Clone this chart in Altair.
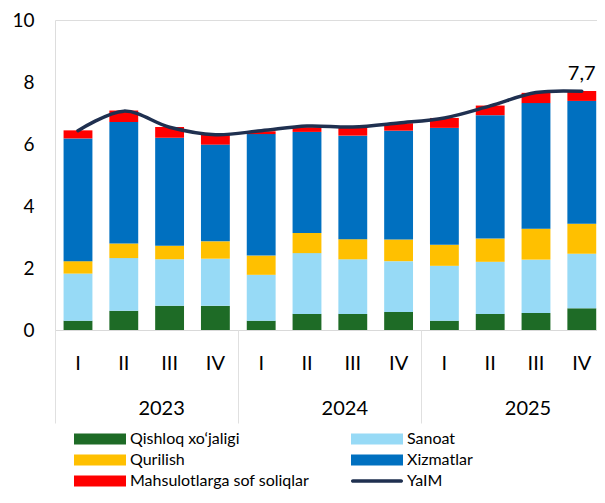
import altair as alt
import pandas as pd

# ---- data ----
quarters = ["I", "II", "III", "IV"] * 3
years = ["2023"] * 4 + ["2024"] * 4 + ["2025"] * 4

series_names = ["Qishloq xo‘jaligi", "Sanoat", "Qurilish", "Xizmatlar",
                "Mahsulotlarga sof soliqlar"]
line_name = "YaIM"

qishloq = [0.30, 0.62, 0.78, 0.78, 0.30, 0.52, 0.52, 0.58, 0.30, 0.52, 0.55, 0.70]
sanoat = [1.52, 1.70, 1.50, 1.52, 1.48, 1.96, 1.76, 1.64, 1.77, 1.68, 1.72, 1.76]
qurilish = [0.40, 0.47, 0.44, 0.56, 0.62, 0.65, 0.65, 0.70, 0.68, 0.75, 1.00, 0.97]
xizmatlar = [3.96, 3.92, 3.48, 3.12, 3.92, 3.26, 3.34, 3.51, 3.77, 3.98, 4.05, 3.96]
soliqlar = [0.26, 0.37, 0.35, 0.32, 0.09, 0.15, 0.25, 0.24, 0.32, 0.31, 0.33, 0.32]
yaim = [6.43, 7.06, 6.54, 6.30, 6.43, 6.58, 6.55, 6.68, 6.84, 7.23, 7.66, 7.70]

colors = ["#1E6B26", "#97DAF6", "#FFC000", "#0070C0", "#FF0000", "#1F3050"]

# ---- tables ----
keys = [f"{y}-{q}" for y, q in zip(years, quarters)]
series_vals = [qishloq, sanoat, qurilish, xizmatlar, soliqlar]
rows = []
for i, k in enumerate(keys):
    for j, (name, vals) in enumerate(zip(series_names, series_vals)):
        rows.append({"key": k, "series": name, "value": vals[i], "ord": j})
bars_df = pd.DataFrame(rows)
line_df = pd.DataFrame({"key": keys, "series": line_name, "gdp": yaim})
label_df = line_df.tail(1).copy()
label_df["label"] = label_df["gdp"].map(lambda v: f"{v:.1f}".replace(".", ","))

FONT = "Lato"

xscale = alt.Scale(domain=keys, paddingInner=0.37, paddingOuter=0.102, align=0.917)
yscale = alt.Scale(domain=[0, 10], nice=False)
cscale = alt.Scale(domain=series_names + [line_name], range=colors)

RECT = "M-1,-0.21H1V0.21H-1Z"
LINE = "M-0.93,-0.07H0.93A0.07,0.07 0 0 1 0.93,0.07H-0.93A0.07,0.07 0 0 1 -0.93,-0.07Z"

legend = alt.Legend(
    title=None, orient="none", legendX=19, legendY=409, columns=2,
    direction="horizontal",
    symbolType=alt.ExprRef(expr=f"datum.value == 'YaIM' ? '{LINE}' : '{RECT}'"),
    symbolSize=2704, symbolStrokeWidth=0, clipHeight=20,
    labelFont=FONT, labelFontSize=16, labelColor="black", labelOffset=4,
    columnPadding=41, rowPadding=1, padding=0, labelLimit=0,
)

quarter_axis = alt.Axis(
    orient="bottom", title=None, labelExpr="split(datum.value, '-')[1]", labelAngle=0,
    labelFont=FONT, labelFontSize=20, labelColor="black", labelPadding=23,
    ticks=False, domain=True, domainColor="#D9D9D9", domainWidth=1,
    grid=False, labelOverlap=False, offset=0,
)

year_axis = alt.Axis(
    orient="bottom", title=None,
    labelExpr="split(datum.value, '-')[1] == 'III' ? split(datum.value, '-')[0] : ''",
    labelAngle=0, labelFont=FONT, labelFontSize=20, labelColor="black",
    bandPosition=0, tickOffset=-8.5, ticks=True, tickSize=93, tickColor="#E0E0E0",
    tickWidth=1,
    tickOpacity={"condition": {"test": "split(datum.value, '-')[1] == 'I'", "value": 1},
                 "value": 0},
    labelPadding=-25, domain=False, grid=False, labelOverlap=False, offset=0,
)

y_axis = alt.Axis(
    title=None, values=[0, 2, 4, 6, 8, 10], labelFont=FONT, labelFontSize=19,
    labelColor="black", ticks=False, domain=False, grid=False, labelPadding=21,
)

bars = alt.Chart(bars_df).mark_bar().encode(
    x=alt.X("key:N", scale=xscale, axis=quarter_axis, sort=keys),
    y=alt.Y("value:Q", scale=yscale, axis=y_axis, stack="zero"),
    color=alt.Color("series:N", scale=cscale, legend=legend),
    order=alt.Order("ord:Q"),
)

line = alt.Chart(line_df).mark_line(
    interpolate="cardinal", strokeWidth=3.5, strokeCap="round"
).encode(
    x=alt.X("key:N", scale=xscale, axis=year_axis, sort=keys),
    y=alt.Y("gdp:Q", scale=yscale, axis=y_axis),
    color=alt.Color("series:N", scale=cscale, legend=legend),
)

label = alt.Chart(label_df).mark_text(
    align="left", baseline="alphabetic", dx=-14, dy=-11,
    font=FONT, fontSize=20, color="black"
).encode(
    x=alt.X("key:N", scale=xscale, axis=None, sort=keys),
    y=alt.Y("gdp:Q", scale=yscale, axis=y_axis),
    text="label:N",
)

chart = alt.layer(bars, line, label).resolve_axis(x="independent").properties(
    width=542, height=310,
    padding={"left": 47, "top": 12, "right": 0, "bottom": 160},
    autosize=alt.AutoSizeParams(type="none"),
).configure_view(stroke="#EBEBEB").configure(background="white")

chart.save("out.html", embed_options={"renderer": "svg", "actions": False})
